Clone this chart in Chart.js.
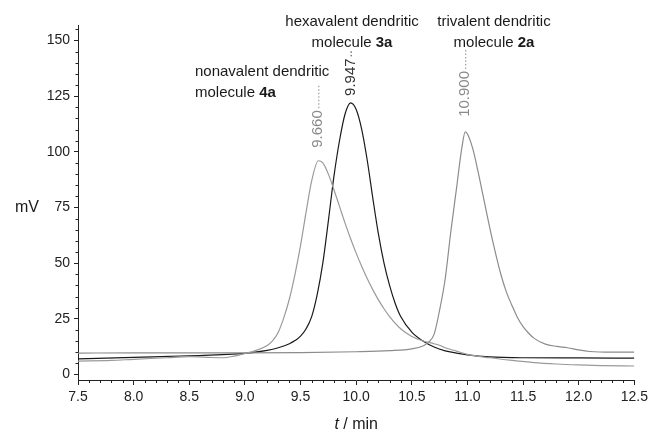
<!DOCTYPE html>
<html lang="en">
<head>
  <meta charset="UTF-8">
  <script src="https://cdn.jsdelivr.net/npm/chart.js"></script>
  <title>Chromatogram</title>
  <style>
    body { margin: 0; background: #fff; }
  </style>
</head>
<body>
  <canvas id="chromCanvas" width="652" height="432"></canvas>

<script>
  // axis ticks
  const xTicks = [7.5, 8.0, 8.5, 9.0, 9.5, 10.0, 10.5, 11.0, 11.5, 12.0, 12.5];
  const yTicks = [0, 25, 50, 75, 100, 125, 150];

  // nonavalent dendritic molecule 4a (grey)
  const t4a = [7.5, 7.8, 8.0, 8.3, 8.5, 8.7, 8.8, 8.9, 9.0, 9.1, 9.2, 9.25, 9.3, 9.35, 9.4, 9.45, 9.5, 9.55, 9.6, 9.66, 9.7, 9.75, 9.8, 9.85, 9.9, 9.95, 10.0, 10.05, 10.1, 10.15, 10.2, 10.25, 10.3, 10.4, 10.5, 10.6, 10.7, 10.75, 10.8, 10.9, 11.0, 11.2, 11.4, 11.6, 11.8, 12.0, 12.2, 12.5];
  const v4a = [6.0, 6.3, 6.8, 7.5, 8.0, 7.6, 7.5, 8.2, 9.4, 10.8, 13.0, 15.2, 19, 25.5, 34, 45, 58, 73, 87, 96, 95, 90, 83, 75.5, 68, 61, 54.5, 48.5, 43, 38, 33.5, 29.5, 26, 20.5, 17, 15, 13.8, 13.1, 12.0, 10.5, 9.0, 7.5, 6.3, 5.3, 4.7, 4.3, 4.0, 3.8];

  // hexavalent dendritic molecule 3a (black)
  const t3a = [7.5, 8.0, 8.5, 9.0, 9.2, 9.3, 9.4, 9.45, 9.5, 9.55, 9.6, 9.65, 9.7, 9.75, 9.8, 9.85, 9.9, 9.95, 10.0, 10.05, 10.1, 10.15, 10.2, 10.25, 10.3, 10.35, 10.4, 10.5, 10.6, 10.7, 10.8, 10.9, 11.0, 11.2, 11.5, 12.0, 12.5];
  const v3a = [7.0, 7.7, 8.4, 9.5, 10.8, 12.0, 13.8, 15.2, 17.2, 20.5, 26, 36, 50, 69, 89, 105, 117, 122, 119, 110, 96, 79, 63, 50, 40, 32, 26, 19, 15, 12.3, 10.6, 9.6, 8.8, 7.9, 7.5, 7.4, 7.3];

  // trivalent dendritic molecule 2a (grey)
  const t2a = [7.5, 8.0, 8.5, 9.0, 9.5, 10.0, 10.3, 10.5, 10.6, 10.65, 10.7, 10.75, 10.8, 10.85, 10.9, 10.95, 10.98, 11.0, 11.05, 11.1, 11.15, 11.2, 11.25, 11.3, 11.35, 11.4, 11.45, 11.5, 11.55, 11.6, 11.7, 11.8, 11.9, 12.0, 12.1, 12.3, 12.5];
  const v2a = [9.6, 9.7, 9.7, 9.7, 9.8, 10.2, 10.7, 11.5, 12.8, 14.5, 18, 29, 43, 64, 83, 102, 109, 108, 101, 90, 78, 66, 55, 45, 37, 31, 25.5, 21.5, 18.5, 16.2, 13.6, 12.6, 12.0, 11.0, 10.3, 10.0, 10.0];

  // peak labels
  const peakTimes = [9.66, 9.95, 10.98];
  const peakValues = [96, 122, 109];
  const peakLabels = ['9.660', '9.947', '10.900'];

  const FONT = '"Liberation Sans", Arial, sans-serif';

  function pontos(ts, vs) {
    return ts.map(function (t, i) { return { x: t, y: vs[i] }; });
  }

  // texto com partes em negrito
  function textoMisto(ctx, partes, x, y, align) {
    let total = 0;
    partes.forEach(function (p) {
      ctx.font = (p[1] ? 'bold ' : '') + '15px ' + FONT;
      total += ctx.measureText(p[0]).width;
    });
    let cx = align === 'center' ? x - total / 2 : x;
    ctx.textAlign = 'left';
    partes.forEach(function (p) {
      ctx.font = (p[1] ? 'bold ' : '') + '15px ' + FONT;
      ctx.fillText(p[0], cx, y);
      cx += ctx.measureText(p[0]).width;
    });
  }

  const anotacoes = {
    id: 'anotacoes',
    afterDraw(chart) {
      const ctx = chart.ctx;
      const area = chart.chartArea;
      const xs = chart.scales.x;
      const ys = chart.scales.y;
      ctx.save();

      // minor ticks
      ctx.strokeStyle = '#222';
      ctx.lineWidth = 1;
      ctx.beginPath();
      for (let v = 5; v <= 155; v += 5) {
        if (v % 25 === 0) continue;
        const py = Math.round(ys.getPixelForValue(v)) + 0.5;
        ctx.moveTo(area.left - 2.5, py);
        ctx.lineTo(area.left, py);
      }
      for (let i = 1; i < 50; i++) {
        if (i % 5 === 0) continue;
        const px = Math.round(xs.getPixelForValue(7.5 + i * 0.1)) + 0.5;
        ctx.moveTo(px, area.bottom);
        ctx.lineTo(px, area.bottom + 3);
      }
      ctx.stroke();

      // peak labels, rotated, with dotted leader
      const cores = ['#8a8a8a', '#333333', '#8a8a8a'];
      const gap = [13, 7, 15];
      const topo = [84, 50, 50];
      peakTimes.forEach(function (t, i) {
        const px = xs.getPixelForValue(t);
        const py = ys.getPixelForValue(peakValues[i]) - gap[i];
        ctx.save();
        ctx.translate(px, py);
        ctx.rotate(-Math.PI / 2);
        ctx.font = '15px ' + FONT;
        ctx.fillStyle = cores[i];
        ctx.textAlign = 'left';
        ctx.textBaseline = 'middle';
        ctx.fillText(peakLabels[i], 0, 0);
        const w = ctx.measureText(peakLabels[i]).width;
        ctx.strokeStyle = cores[i];
        ctx.lineWidth = 1;
        ctx.setLineDash([1.5, 2]);
        ctx.beginPath();
        ctx.moveTo(w + 2, 0.5);
        ctx.lineTo(py - topo[i], 0.5);
        ctx.stroke();
        ctx.restore();
      });

      // molecule names
      ctx.fillStyle = '#1a1a1a';
      ctx.textBaseline = 'middle';
      textoMisto(ctx, [['hexavalent dendritic', false]], 352, 22, 'center');
      textoMisto(ctx, [['molecule ', false], ['3a', true]], 352, 43, 'center');
      textoMisto(ctx, [['trivalent dendritic', false]], 494, 22, 'center');
      textoMisto(ctx, [['molecule ', false], ['2a', true]], 494, 43, 'center');
      textoMisto(ctx, [['nonavalent dendritic', false]], 195, 72, 'left');
      textoMisto(ctx, [['molecule ', false], ['4a', true]], 195, 93, 'left');

      // axis titles
      ctx.font = '16px ' + FONT;
      ctx.textAlign = 'center';
      ctx.fillText('mV', 27, ys.getPixelForValue(75));
      ctx.font = 'italic 16px ' + FONT;
      const tW = ctx.measureText('t').width;
      ctx.font = '16px ' + FONT;
      const restoW = ctx.measureText(' / min').width;
      const cx = (area.left + area.right) / 2 - (tW + restoW) / 2;
      ctx.textAlign = 'left';
      ctx.font = 'italic 16px ' + FONT;
      ctx.fillText('t', cx, 425);
      ctx.font = '16px ' + FONT;
      ctx.fillText(' / min', cx + tW, 425);

      ctx.restore();
    }
  };

  const dados = {
    datasets: [
      { label: '4a', data: pontos(t4a, v4a), borderColor: '#9a9a9a' },
      { label: '2a', data: pontos(t2a, v2a), borderColor: '#8c8c8c' },
      { label: '3a', data: pontos(t3a, v3a), borderColor: '#1a1a1a' }
    ]
  };

  const config = {
    type: 'line',
    data: dados,
    options: {
      responsive: false,
      animation: false,
      devicePixelRatio: 1,
      layout: { padding: { left: 0, right: 16, top: 25, bottom: 0 } },
      elements: {
        point: { radius: 0 },
        line: { borderWidth: 1.2, cubicInterpolationMode: 'monotone', fill: false }
      },
      plugins: { legend: { display: false }, tooltip: { enabled: false } },
      scales: {
        x: {
          type: 'linear',
          min: 7.5,
          max: 12.5,
          afterBuildTicks: function (scale) { scale.ticks = xTicks.map(function (v) { return { value: v }; }); },
          afterFit: function (scale) { scale.height = 52; },
          ticks: {
            color: '#222',
            font: { family: FONT, size: 14 },
            padding: 4,
            maxRotation: 0,
            callback: function (v) { return Number(v).toFixed(1); }
          },
          grid: { drawOnChartArea: false, drawTicks: true, tickLength: 5, color: '#222' },
          border: { display: true, color: '#222', width: 1 }
        },
        y: {
          type: 'linear',
          min: -2.5,
          max: 157,
          afterBuildTicks: function (scale) { scale.ticks = yTicks.map(function (v) { return { value: v }; }); },
          afterFit: function (scale) { scale.width = 78; },
          ticks: {
            color: '#222',
            font: { family: FONT, size: 14 },
            padding: 4
          },
          grid: { drawOnChartArea: false, drawTicks: true, tickLength: 4, color: '#222' },
          border: { display: true, color: '#222', width: 1 }
        }
      }
    },
    plugins: [anotacoes]
  };

  let grafico = new Chart(document.getElementById('chromCanvas'), config);
</script>
</body>
</html>
